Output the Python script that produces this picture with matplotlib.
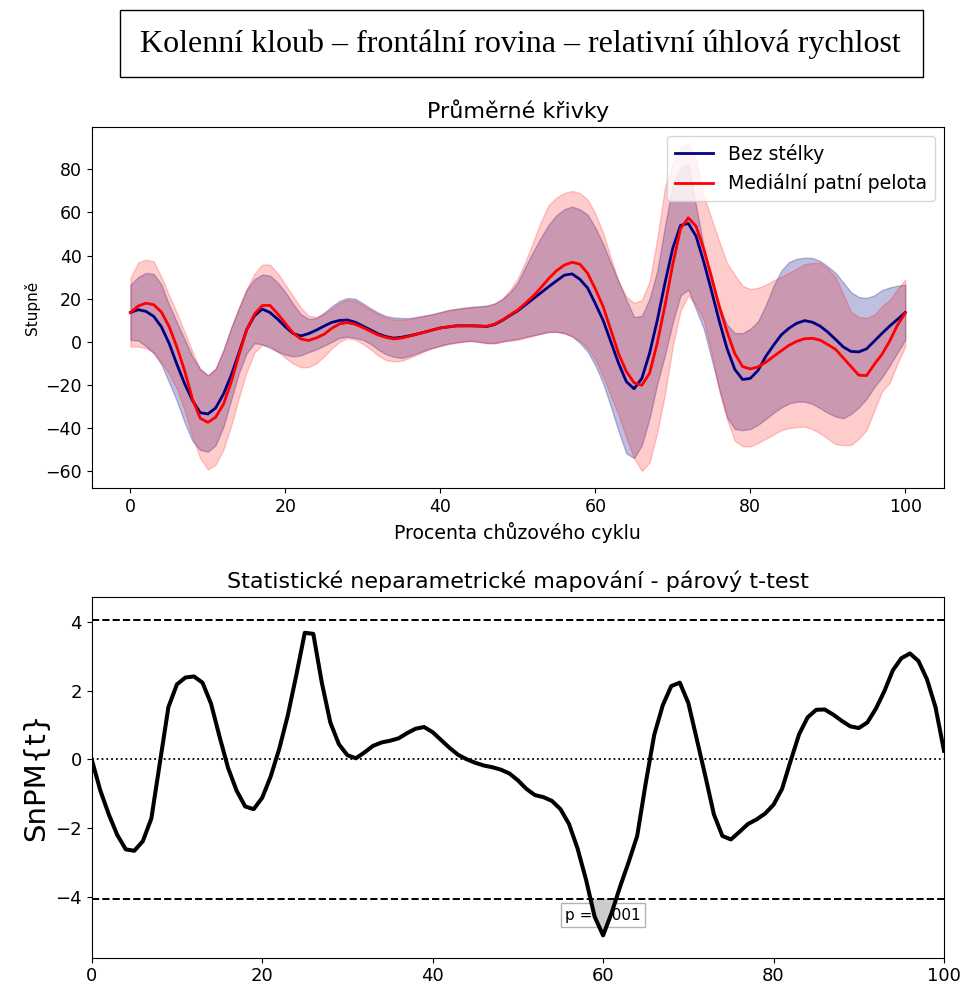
import numpy as np
import matplotlib
matplotlib.use('Agg')
import matplotlib.pyplot as plt
from matplotlib.patches import Rectangle

x = np.arange(101)

# prumerne krivky (stupne)
bez_mean = [13.6, 14.9, 14.1, 11.8, 6.9, -0.8, -10.5, -19.5, -27.2, -32.9,
            -33.5, -30.7, -24.3, -15.6, -5.2, 5.6, 12.0, 15.2, 13.6, 10.5,
            6.9, 3.8, 2.7, 3.8, 5.4, 7.3, 9.0, 9.9, 10.1, 9.1,
            7.3, 5.5, 3.6, 2.4, 1.7, 2.1, 2.8, 3.6, 4.5, 5.5,
            6.4, 6.9, 7.4, 7.4, 7.4, 7.3, 7.1, 8.0, 9.9, 12.2,
            14.4, 17.2, 20.0, 22.8, 25.6, 28.3, 30.9, 31.5, 29.0, 25.0,
            17.7, 10.0, 0.0, -10.0, -18.5, -21.8, -17.0, -5.3, 10.0, 27.5,
            43.5, 54.0, 54.9, 49.0, 37.0, 23.5, 9.5, -3.2, -12.8, -17.5,
            -17.0, -13.3, -6.8, -1.6, 3.2, 6.3, 8.6, 9.8, 9.1, 7.3,
            4.5, 1.1, -2.4, -4.5, -4.7, -3.3, 0.3, 3.9, 7.3, 10.4,
            13.6]
bez_upper = [26.5, 30.0, 32.0, 31.5, 26.5, 17.0, 9.0, 1.0, -7.0, -12.5,
             -15.5, -12.5, -4.0, 6.5, 15.5, 24.2, 29.0, 31.2, 30.7, 27.5,
             23.0, 17.5, 12.8, 10.5, 11.0, 13.5, 16.5, 19.0, 20.3, 20.0,
             17.8, 15.5, 13.5, 11.9, 11.3, 11.0, 11.0, 11.6, 12.2, 12.9,
             13.8, 14.7, 15.3, 15.8, 16.2, 16.5, 16.8, 17.8, 19.8, 23.0,
             27.5, 35.0, 42.0, 48.5, 54.5, 58.8, 61.5, 62.7, 61.5, 59.0,
             53.0, 45.5, 36.5, 28.0, 19.5, 11.5, 12.0, 20.0, 33.0, 54.0,
             73.0, 80.5, 82.5, 63.0, 44.0, 27.5, 16.4, 8.0, 4.0, 4.0,
             6.0, 9.5, 17.0, 26.0, 33.0, 37.0, 38.5, 39.0, 38.9, 37.5,
             35.0, 32.0, 27.5, 23.0, 20.8, 20.3, 21.5, 24.0, 25.2, 26.0,
             26.5]
bez_lower = [0.9, 0.5, -2.0, -5.3, -10.5, -19.0, -27.5, -37.5, -46.0, -50.2,
             -51.0, -48.0, -39.5, -27.0, -14.5, -5.3, -0.7, -1.2, -2.8, -4.6,
             -6.0, -6.8, -6.3, -4.8, -3.5, -1.8, 0.0, 1.8, 2.4, 1.8,
             0.9, -1.0, -3.7, -5.8, -7.0, -7.5, -6.6, -5.3, -4.0, -2.8,
             -1.8, -0.9, -0.3, 0.2, 0.5, 0.0, -0.5, -0.6, 0.2, 0.8,
             1.4, 2.3, 3.0, 3.8, 4.6, 4.6, 4.0, 2.5, -0.5, -4.5,
             -11.0, -19.2, -30.0, -41.5, -51.8, -54.0, -48.0, -35.5, -19.5, -6.0,
             9.0, 21.5, 24.2, 15.0, 6.0, -8.0, -22.0, -35.0, -40.5, -41.0,
             -40.5, -38.5, -35.8, -33.0, -30.5, -28.6, -27.8, -27.8, -28.8, -30.8,
             -33.0, -34.7, -35.5, -33.5, -30.5, -26.5, -21.0, -16.5, -11.0, -5.0,
             0.9]

pel_mean = [13.6, 16.6, 17.9, 17.2, 13.8, 7.0, -2.5, -13.5, -26.5, -35.5,
            -37.4, -35.0, -29.0, -18.8, -6.2, 5.6, 12.8, 16.8, 16.9, 13.0,
            8.5, 4.0, 1.3, 0.6, 1.8, 3.5, 6.3, 8.3, 8.9, 8.1,
            6.6, 4.8, 3.1, 2.0, 1.3, 1.7, 2.6, 3.5, 4.5, 5.5,
            6.4, 6.9, 7.3, 7.4, 7.4, 7.3, 7.2, 8.2, 10.1, 12.5,
            14.8, 18.0, 21.3, 25.2, 29.4, 33.0, 35.6, 36.9, 36.0, 31.8,
            24.5, 16.4, 5.5, -5.5, -13.8, -19.0, -20.2, -14.6, -0.5, 17.0,
            36.0, 52.5, 57.5, 53.6, 43.0, 30.0, 16.4, 4.6, -5.5, -11.5,
            -12.6, -11.7, -9.5, -6.8, -4.2, -1.6, 0.2, 1.4, 1.6, 0.8,
            -1.3, -3.5, -7.5, -11.5, -15.5, -15.7, -10.5, -5.8, 0.4, 7.8,
            13.3]
pel_upper = [29.6, 36.8, 38.1, 37.3, 30.0, 21.5, 13.3, 4.5, -4.5, -13.0,
             -15.8, -12.5, -3.7, 6.5, 16.0, 24.5, 31.5, 35.8, 35.8, 31.8,
             26.5, 21.1, 15.8, 12.0, 11.5, 13.0, 15.5, 18.0, 19.5, 19.0,
             17.0, 14.8, 12.8, 11.2, 10.4, 10.3, 10.5, 11.2, 12.0, 12.7,
             13.6, 14.5, 15.1, 15.6, 16.0, 16.3, 16.6, 17.6, 20.0, 24.0,
             29.5, 37.5, 46.5, 56.0, 63.5, 67.0, 69.0, 70.0, 69.0, 66.0,
             59.5, 50.6, 39.0, 28.0, 21.0, 18.0, 19.3, 28.0, 48.0, 72.0,
             83.0, 90.0, 92.0, 84.0, 68.0, 57.0, 46.5, 36.5, 31.0, 26.0,
             24.5, 25.0, 26.5, 28.5, 30.2, 32.0, 34.0, 36.0, 36.6, 36.6,
             34.0, 30.0, 22.0, 14.0, 11.5, 11.0, 12.5, 16.4, 19.5, 24.5,
             28.8]
pel_lower = [-2.2, -2.2, -3.0, -5.0, -9.5, -15.0, -22.0, -32.0, -44.0, -54.0,
             -59.3, -57.0, -50.0, -39.0, -26.0, -14.0, -5.0, -1.5, -2.0, -4.5,
             -7.5, -10.2, -11.8, -11.8, -10.0, -6.8, -3.0, 0.0, 1.7, 1.0,
             -1.0, -3.5, -6.5, -8.5, -9.1, -8.8, -7.5, -6.0, -4.3, -3.0,
             -2.0, -1.1, -0.5, 0.0, 0.3, -0.2, -0.7, -0.8, 0.0, 0.5,
             0.9, 1.8, 2.8, 3.7, 4.5, 4.6, 4.0, 2.5, 0.5, -3.0,
             -8.5, -16.1, -25.0, -34.0, -44.5, -54.0, -60.0, -56.0, -42.0, -24.0,
             -2.0, 14.5, 21.5, 17.0, 10.0, -5.0, -23.0, -36.0, -46.0, -48.5,
             -48.5, -47.0, -45.0, -43.0, -41.0, -40.0, -39.6, -39.4, -40.5, -42.5,
             -45.0, -47.5, -48.0, -47.9, -45.0, -41.0, -32.0, -23.0, -19.0, -10.0,
             -2.2]

# SnPM{t}
snpm_t = [0.0, -0.9, -1.6, -2.2, -2.62, -2.66, -2.38, -1.72, -0.1, 1.52,
          2.18, 2.38, 2.41, 2.23, 1.62, 0.66, -0.25, -0.91, -1.37, -1.45,
          -1.12, -0.5, 0.3, 1.27, 2.44, 3.68, 3.65, 2.23, 1.07, 0.44,
          0.12, 0.03, 0.2, 0.39, 0.49, 0.54, 0.61, 0.76, 0.89, 0.94,
          0.79, 0.56, 0.33, 0.13, 0.0, -0.1, -0.18, -0.23, -0.3, -0.41,
          -0.61, -0.86, -1.04, -1.1, -1.21, -1.45, -1.88, -2.59, -3.5, -4.57,
          -5.12, -4.47, -3.7, -2.99, -2.23, -0.7, 0.71, 1.57, 2.13, 2.23,
          1.64, 0.58, -0.49, -1.6, -2.23, -2.33, -2.11, -1.88, -1.75, -1.58,
          -1.32, -0.86, -0.05, 0.73, 1.22, 1.44, 1.45, 1.3, 1.12, 0.96,
          0.91, 1.07, 1.47, 1.98, 2.59, 2.94, 3.08, 2.86, 2.33, 1.52,
          0.25]
t_crit = 4.06
p_value = 0.001

fig = plt.figure(figsize=(9.63, 9.9), dpi=100)

fig.patches.append(Rectangle((119.5 / 963, 1 - 77 / 990), 803 / 963, 67 / 990,
                             transform=fig.transFigure, fill=False,
                             edgecolor='black', linewidth=1.0))
fig.text(520 / 963, 1 - 44 / 990,
         'Kolenní kloub – frontální rovina – relativní úhlová rychlost',
         ha='center', va='center', fontsize=23,
         family=['Liberation Serif', 'DejaVu Serif'])

# horni graf - prumerne krivky
ax1 = fig.add_axes([91.7 / 963, 1 - 488.3 / 990, 852.3 / 963, 361.6 / 990])
ax1.fill_between(x, bez_lower, bez_upper, color='navy', alpha=0.25)
ax1.fill_between(x, pel_lower, pel_upper, color='red', alpha=0.2)
ax1.plot(x, bez_mean, color='navy', lw=2, label='Bez stélky')
ax1.plot(x, pel_mean, color='red', lw=2, label='Mediální patní pelota')
ax1.set_xlim(-5, 105)
ax1.set_ylim(-68, 99.8)
ax1.set_yticks([-60, -40, -20, 0, 20, 40, 60, 80])
ax1.tick_params(labelsize=12.5)
ax1.set_title('Průměrné křivky', fontsize=16)
ax1.set_xlabel('Procenta chůzového cyklu', fontsize=13.6)
ax1.set_ylabel('Stupně', fontsize=11)
ax1.legend(loc='upper right', fontsize=13.6)

# dolni graf - SnPM parovy t-test
ax2 = fig.add_axes([91.7 / 963, 1 - 957.7 / 990, 852.3 / 963, 361 / 990])
t = np.array(snpm_t)
ax2.fill_between(x, t, -t_crit, where=t < -t_crit, interpolate=True,
                 color='0.8', zorder=2)
ax2.plot(x, t, color='k', lw=2.9, zorder=4)
ax2.axhline(t_crit, color='k', ls='--', lw=1.4, zorder=3)
ax2.axhline(-t_crit, color='k', ls='--', lw=1.4, zorder=3)
ax2.axhline(0, color='k', ls=':', lw=1.3, zorder=3)
ax2.text(60, -4.53, 'p = %.3f' % p_value, ha='center', va='center',
         fontsize=11, zorder=1,
         bbox=dict(facecolor='white', edgecolor='0.7', boxstyle='square,pad=0.3'))
ax2.set_xlim(0, 100)
ax2.set_ylim(-5.77, 4.73)
ax2.set_yticks([-4, -2, 0, 2, 4])
ax2.tick_params(labelsize=13)
ax2.set_title('Statistické neparametrické mapování - párový t-test', fontsize=16)
ax2.set_ylabel('SnPM{t}', fontsize=21)

fig.savefig('out.png', dpi=100)
